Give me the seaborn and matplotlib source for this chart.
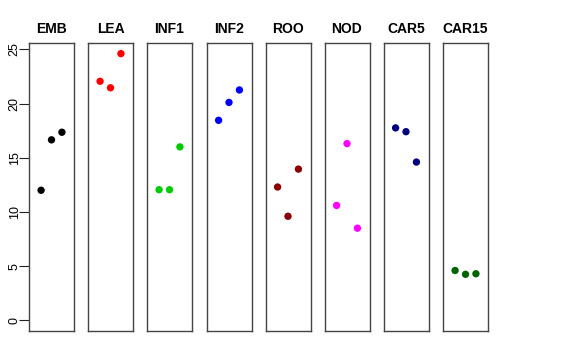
import numpy as np
import pandas as pd
import matplotlib
matplotlib.use("Agg")
import matplotlib.pyplot as plt
import seaborn as sns

# tissues, replicate values and colours
tissues = ["EMB", "LEA", "INF1", "INF2", "ROO", "NOD", "CAR5", "CAR15"]
values = [
    [12.0, 16.65, 17.35],
    [22.05, 21.45, 24.6],
    [12.05, 12.05, 16.0],
    [18.45, 20.1, 21.25],
    [12.3, 9.6, 13.95],
    [10.6, 16.3, 8.5],
    [17.75, 17.4, 14.6],
    [4.6, 4.25, 4.3],
]
colors = ["black", "red", "#00CD00", "blue", "#8B0000", "magenta", "#000080", "#006400"]
replicate = [1, 2, 3]

sns.set_style("white")
plt.rcParams["font.family"] = ["Liberation Sans", "DejaVu Sans"]
plt.rcParams["text.color"] = "black"
plt.rcParams["ytick.color"] = "black"

W, H = 576, 360
fig = plt.figure(figsize=(W / 100, H / 100), dpi=100)

lefts = [29, 88, 147, 206.5, 265.5, 324.5, 383.5, 443]
pw, top, bot = 45, 43, 331

for i, name in enumerate(tissues):
    ax = fig.add_axes([lefts[i] / W, (H - bot) / H, pw / W, (bot - top) / H])
    df = pd.DataFrame({"rep": replicate, "val": values[i]})
    sns.scatterplot(data=df, x="rep", y="val", color=colors[i], s=28,
                    edgecolor="none", ax=ax, legend=False)
    ax.set_xlim(-0.16, 4.16)
    ax.set_ylim(-0.98, 25.58)
    ax.set_xticks([])
    ax.set_xlabel("")
    ax.set_ylabel("")
    ax.set_title(name, fontsize=10, fontweight="bold", pad=7, color="black")
    for s in ax.spines.values():
        s.set_color("#444444")
        s.set_linewidth(1.0)
    if i == 0:
        ax.set_yticks([0, 5, 10, 15, 20, 25])
        ax.tick_params(axis="y", left=True, length=7.5, width=0.8, color="#222222",
                       labelsize=9, pad=-1.5, labelcolor="black")
        for lab in ax.get_yticklabels():
            lab.set_rotation(90)
            lab.set_va("center")
    else:
        ax.set_yticks([])

fig.savefig("out.png", dpi=100)
